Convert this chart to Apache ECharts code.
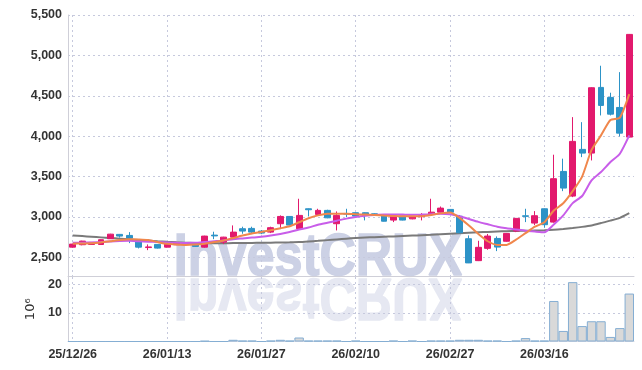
<!DOCTYPE html>
<html><head><meta charset="utf-8">
<script src="https://cdn.jsdelivr.net/npm/echarts@6/dist/echarts.min.js"></script>
<style>html,body{margin:0;padding:0;background:#fff}#c{width:642px;height:370px}</style>
</head><body><div id="c"></div>
<script>
const dates = ['25/12/26','25/12/29','25/12/30','26/01/02','26/01/05','26/01/06','26/01/07','26/01/08','26/01/09','26/01/12',
'26/01/13','26/01/14','26/01/15','26/01/16','26/01/19','26/01/20','26/01/21','26/01/22','26/01/23','26/01/26',
'26/01/27','26/01/28','26/01/29','26/01/30','26/02/02','26/02/03','26/02/04','26/02/05','26/02/06','26/02/09',
'26/02/10','26/02/11','26/02/12','26/02/13','26/02/19','26/02/20','26/02/23','26/02/24','26/02/25','26/02/26',
'26/02/27','26/03/03','26/03/04','26/03/05','26/03/06','26/03/09','26/03/10','26/03/11','26/03/12','26/03/13',
'26/03/16','26/03/17','26/03/18','26/03/19','26/03/20','26/03/23','26/03/24','26/03/25','26/03/26','26/03/27'];
const opens  = [2627,2657,2660,2660,2731,2785,2772,2719,2622,2661,2627,2657,2675,2677,2627,2776,2689,2751,2855,2859,
2826,2813,2917,3007,2855,3102,3032,3082,2917,3044,3053,3053,3040,3015,2962,3012,2977,3005,3032,3060,
3094,3010,2731,2460,2612,2735,2700,2826,3015,2925,3102,2937,3564,3259,3837,3791,4604,4480,4356,3989];
const closes = [2665,2702,2686,2719,2788,2764,2739,2627,2630,2615,2670,2686,2668,2636,2764,2766,2751,2813,2826,2813,
2801,2868,3007,2900,3020,3090,3082,2990,3020,3036,3011,3032,3020,2948,3012,2962,3005,3015,3060,3110,
3060,2805,2432,2625,2764,2628,2797,2983,3008,3016,2905,3474,3358,3936,3791,4600,4381,4273,4038,5260];
const lows   = [2620,2650,2655,2655,2728,2745,2677,2611,2590,2610,2622,2652,2660,2630,2620,2726,2665,2745,2793,2793,
2788,2801,2850,2895,2843,3007,3020,2985,2834,2999,3005,2958,3015,2945,2937,2958,2972,2958,3030,3055,
3055,2800,2430,2455,2595,2578,2695,2813,2937,2900,2867,2930,3320,3246,3741,3700,4257,4257,3997,3985];
const highs  = [2670,2706,2690,2722,2792,2790,2813,2722,2661,2665,2675,2690,2680,2680,2768,2818,2755,2896,2880,2880,
2838,2880,3020,3010,3226,3106,3102,3090,3069,3102,3057,3057,3045,3020,3020,3015,3010,3048,3226,3130,
3098,3025,2772,2706,2790,2760,2802,2988,3102,3073,3106,3771,3722,4236,4174,4605,4872,4538,4793,5265];
const maShort = [2670,2672,2675,2685,2700,2715,2725,2722,2715,2690,2668,2660,2655,2660,2670,2690,2710,2740,2770,2795,
2815,2835,2860,2885,2935,2985,3020,3040,3040,3040,3035,3030,3025,3018,3012,3010,3008,3010,3025,3045,
3055,2990,2895,2790,2700,2655,2655,2720,2800,2880,2935,3080,3170,3320,3500,3830,4010,4200,4230,4520];
const maMid = [2680,2682,2685,2690,2698,2703,2705,2700,2695,2690,2685,2680,2678,2680,2690,2700,2710,2725,2735,2745,
2755,2770,2790,2815,2845,2870,2905,2930,2955,2980,3000,3015,3025,3030,3032,3030,3028,3030,3035,3040,
3035,3010,2975,2940,2910,2880,2860,2845,2830,2820,2812,2908,3020,3172,3260,3453,3556,3680,3783,4010];
const maLong = [2772,2764,2756,2748,2740,2732,2724,2716,2708,2700,2693,2687,2682,2679,2677,2676,2676,2677,2678,2679,
2681,2683,2685,2687,2690,2697,2705,2714,2723,2732,2740,2746,2751,2756,2760,2765,2770,2775,2780,2786,
2792,2798,2804,2810,2816,2821,2824,2827,2830,2833,2836,2842,2852,2864,2878,2896,2925,2955,2990,3048];
const volumes = [0,0,0,0,0,0,0,0,0,0,0,0,0,0,0.2,0,0,0.6,0.3,0.3,
0,0.3,0.6,0.3,1.4,0.3,0.3,0.3,0.3,0,0.3,0,0,0,0.3,0,0.3,0,0.3,0.3,
0.3,0.6,0.6,0.6,0.3,0.3,0,0.3,1.2,0.3,0.3,14.2,3.7,20.8,5.4,7.1,7.1,1.6,4.7,16.8];
const priceTicks = [2500,3000,3500,4000,4500,5000,5500];
const volTicks = [10,20];

const FONT = "'Liberation Sans',Arial,sans-serif";
const UP = '#e2196d', DOWN = '#2d93c7';
const gridLine = {show:true, lineStyle:{color:'#c6c9dd', type:[2,3], width:1}};
const labelStyle = {color:'#333', fontFamily:FONT, fontWeight:'bold', fontSize:12.5};

const chart = echarts.init(document.getElementById('c'), null, {renderer:'canvas'});
chart.setOption({
  animation:false,
  graphic:[
    {type:'text', x:318, y:228, scaleX:0.84, z:0, silent:true,
     style:{text:'InvestCRUX', font:"bold 60px "+FONT, align:'center', verticalAlign:'top',
       fill:'#ccd1e5', stroke:'#ccd1e5', lineWidth:1.5}},
    {type:'text', x:318, y:326, scaleX:0.84, scaleY:-1, z:0, silent:true,
     style:{text:'InvestCRUX', font:"bold 60px "+FONT, align:'center', verticalAlign:'top',
       fill:'#e6e8f2', stroke:'#e6e8f2', lineWidth:1.5}}
  ],
  grid:[
    {left:68, right:8, top:15, height:261},
    {left:68, right:8, top:277, height:64.5}
  ],
  xAxis:[
    {type:'category', gridIndex:0, data:dates, boundaryGap:true,
     axisLine:{show:true, lineStyle:{color:'#cfcfd8'}}, axisTick:{show:false, alignWithLabel:true, interval:9},
     axisLabel:{show:false}, splitLine:Object.assign({interval:9, alignWithLabel:true}, gridLine)},
    {type:'category', gridIndex:1, data:dates, boundaryGap:true,
     axisLine:{show:true, lineStyle:{color:'#d8d8e0'}}, axisTick:{show:false, alignWithLabel:true, interval:9},
     axisLabel:Object.assign({interval:9, margin:7}, labelStyle),
     splitLine:Object.assign({interval:9, alignWithLabel:true}, gridLine)}
  ],
  yAxis:[
    {type:'value', gridIndex:0, min:2270, max:5500, scale:true,
     axisLine:{show:true, lineStyle:{color:'#cfcfd8'}},
     axisTick:{show:false, customValues:priceTicks},
     axisLabel:Object.assign({customValues:priceTicks, margin:6, formatter:v=>v.toLocaleString('en-US')}, labelStyle),
     splitLine:gridLine},
    {type:'value', gridIndex:1, min:0, max:22.6,
     name:'10\u2076', nameLocation:'middle', nameRotate:90, nameGap:27,
     nameTextStyle:{color:'#333', fontFamily:"'DejaVu Sans',sans-serif", fontSize:13},
     axisLine:{show:true, lineStyle:{color:'#cfcfd8'}},
     axisTick:{show:false, customValues:volTicks},
     axisLabel:Object.assign({customValues:volTicks, margin:6}, labelStyle),
     splitLine:gridLine}
  ],
  series:[
    {type:'line', xAxisIndex:0, yAxisIndex:0, data:maLong, symbol:'none', smooth:0.2, z:3,
     lineStyle:{color:'#7a7a7a', width:2}},
    {type:'candlestick', xAxisIndex:0, yAxisIndex:0, barWidth:'68%', z:4,
     data:opens.map((o,i)=>[o, closes[i], lows[i], highs[i]]),
     itemStyle:{color:UP, color0:DOWN, borderColor:UP, borderColor0:DOWN, borderWidth:1}},
    {type:'line', xAxisIndex:0, yAxisIndex:0, data:maMid, symbol:'none', smooth:0.2, z:5,
     lineStyle:{color:'#c85de9', width:2}},
    {type:'line', xAxisIndex:0, yAxisIndex:0, data:maShort, symbol:'none', smooth:0.2, z:6,
     lineStyle:{color:'#f0874c', width:2}},
    {type:'bar', xAxisIndex:1, yAxisIndex:1, data:volumes, barCategoryGap:'0%', z:3,
     itemStyle:{color:'#d9d9d9', borderColor:'#85aed3', borderWidth:1}}
  ]
});
</script></body></html>
